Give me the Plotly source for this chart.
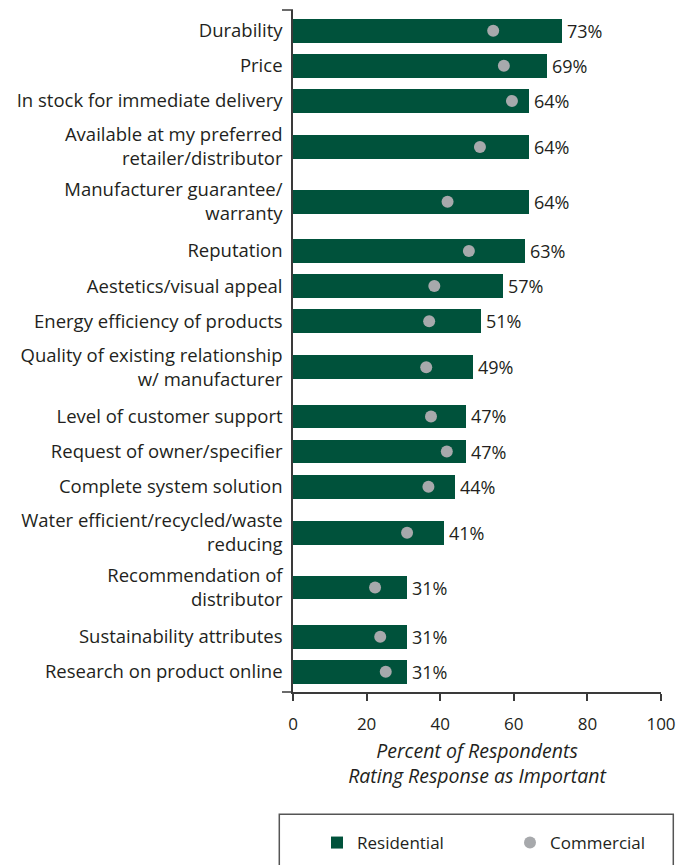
import plotly.graph_objects as go

# ---- data ----
categories = [
    "Durability",
    "Price",
    "In stock for immediate delivery",
    "Available at my preferred<br>retailer/distributor",
    "Manufacturer guarantee/<br>warranty",
    "Reputation",
    "Aestetics/visual appeal",
    "Energy efficiency of products",
    "Quality of existing relationship<br>w/ manufacturer",
    "Level of customer support",
    "Request of owner/specifier",
    "Complete system solution",
    "Water efficient/recycled/waste<br>reducing",
    "Recommendation of<br>distributor",
    "Sustainability attributes",
    "Research on product online",
]
residential = [73, 69, 64, 64, 64, 63, 57, 51, 49, 47, 47, 44, 41, 31, 31, 31]
commercial = [54.4, 57.3, 59.5, 50.8, 42.0, 47.8, 38.4, 37.0, 36.2, 37.5, 41.8, 36.8, 31.0, 22.3, 23.7, 25.2]
x_ticks = [0, 20, 40, 60, 80, 100]

# ---- layout: row positions depend on how many lines each label has ----
GAPS = {(1, 1): 1.0, (1, 2): 1.31, (2, 1): 1.4, (2, 2): 1.56}
lines = [c.count("<br>") + 1 for c in categories]
pos = [0.0]
for i in range(1, len(categories)):
    pos.append(pos[-1] + GAPS[(lines[i - 1], lines[i])])

GREEN = "#00523B"
GREY = "#A7A9AC"
TXT = "#231F20"
AXC = "#3A3A3A"
FONT = "Open Sans"

# the page body adds an 8px offset; the figure is sized so the plot lands
# at the reference pixel positions
OFF = 8
W, H = 693 - OFF, 865 - OFF
ML, MT = 293 - OFF, 10 - OFF
PW, PH = 368, 682
MR = W - ML - PW
MB = H - MT - PH

px2x = lambda px: (px - OFF - ML) / PW
px2y = lambda py: (MT + PH - (py - OFF)) / PH

fig = go.Figure()
fig.add_trace(go.Bar(
    x=residential, y=pos, orientation="h", name="Residential",
    marker=dict(color=GREEN, line=dict(width=0)), width=0.675,
    legend="legend",
))
fig.add_trace(go.Scatter(
    x=commercial, y=pos, mode="markers", name="Commercial",
    marker=dict(color=GREY, size=12, line=dict(width=0)),
    legend="legend2",
))

annotations = []
for v, p in zip(residential, pos):
    annotations.append(dict(
        x=v, y=p, xref="x", yref="y", text=f"{v}%", showarrow=False,
        xanchor="left", yanchor="middle", xshift=3,
        font=dict(family=FONT, size=18, color=TXT),
    ))

shapes = [
    dict(type="line", xref="paper", yref="paper", x0=px2x(282), x1=0, y0=1, y1=1,
         line=dict(color=AXC, width=1.5)),
    dict(type="line", xref="paper", yref="paper", x0=px2x(282), x1=0, y0=0, y1=0,
         line=dict(color=AXC, width=1.5)),
    dict(type="rect", xref="paper", yref="paper", x0=px2x(279.3), x1=px2x(673.3),
         y0=px2y(900), y1=px2y(814.3), line=dict(color="#555555", width=1.5),
         fillcolor="rgba(0,0,0,0)"),
]

legend_common = dict(
    orientation="h", xanchor="left", yanchor="middle", y=px2y(843),
    font=dict(family=FONT, size=17, color=TXT),
    bgcolor="rgba(0,0,0,0)", borderwidth=0,
)

fig.update_layout(
    width=W, height=H,
    margin=dict(l=ML, r=MR, t=MT, b=MB, pad=0),
    paper_bgcolor="white", plot_bgcolor="white",
    font=dict(family=FONT, size=17, color=TXT),
    bargap=0,
    showlegend=True,
    legend=dict(x=px2x(317), **legend_common),
    legend2=dict(x=px2x(510), **legend_common),
    xaxis=dict(
        range=[0, 100], tickvals=x_ticks, ticktext=[str(t) for t in x_ticks],
        showgrid=False, zeroline=False, showline=True, linecolor=AXC, linewidth=1.5,
        ticks="outside", ticklen=7, tickwidth=1.5, tickcolor=AXC,
        ticklabelstandoff=9,
        tickfont=dict(family=FONT, size=17, color=TXT),
        title=dict(text="<i>Percent of Respondents<br>Rating Response as Important</i>",
                   font=dict(family=FONT, size=19.5, color=TXT), standoff=10),
        automargin=False, fixedrange=True,
    ),
    yaxis=dict(
        range=[pos[-1] + 0.575, -0.59], tickvals=pos, ticktext=categories,
        showgrid=False, zeroline=False, showline=True, linecolor=AXC, linewidth=1.5,
        ticks="", ticklabelstandoff=5,
        tickfont=dict(family=FONT, size=18.5, color=TXT),
        automargin=False, fixedrange=True,
    ),
    annotations=annotations,
    shapes=shapes,
)

fig.write_html("out.html")
